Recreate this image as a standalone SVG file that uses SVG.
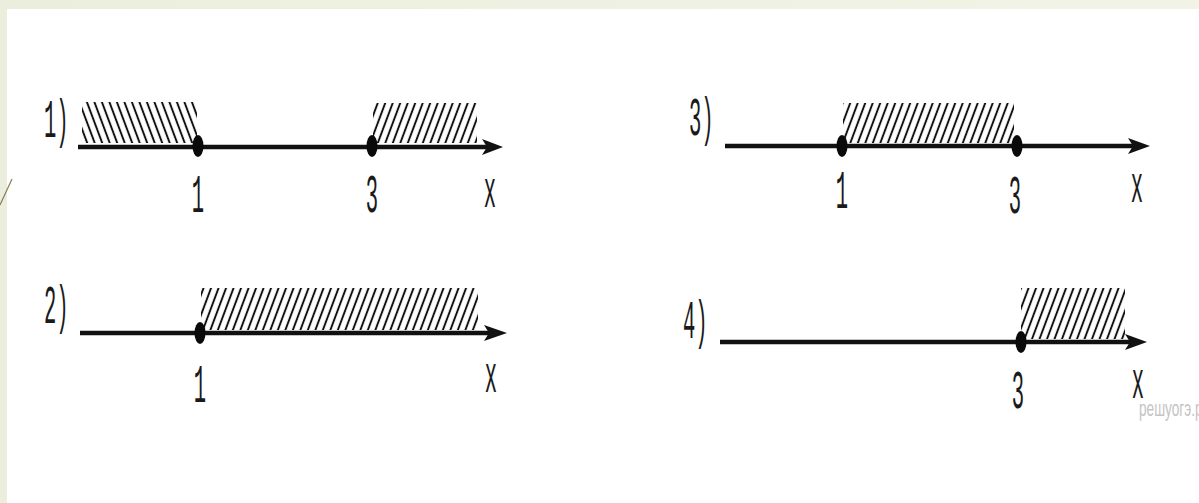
<svg xmlns="http://www.w3.org/2000/svg" width="1199" height="503" viewBox="0 0 1199 503">
<defs>
<linearGradient id="band" x1="0" y1="0" x2="1" y2="0">
<stop offset="0" stop-color="#eceedd"/>
<stop offset="1" stop-color="#f1f3e6"/>
</linearGradient>
<pattern id="fwd" patternUnits="userSpaceOnUse" width="7.5" height="10" patternTransform="skewX(-20.5)">
<line x1="3.75" y1="-1" x2="3.75" y2="11" stroke="#111" stroke-width="2.1"/>
</pattern>
<pattern id="back" patternUnits="userSpaceOnUse" width="7.5" height="10" patternTransform="skewX(20.5)">
<line x1="3.75" y1="-1" x2="3.75" y2="11" stroke="#111" stroke-width="2.1"/>
</pattern>
</defs>
<style>
.axis{stroke:#111;stroke-width:4.5;fill:none}
.dot{fill:#0a0a0a}
.head{fill:#111}
.lbl{font-family:"Liberation Mono",monospace;font-size:54px;fill:#1a1a1a;text-anchor:middle}
.num{font-family:"Liberation Mono",monospace;font-size:54px;fill:#1a1a1a}
.wm{font-family:"Liberation Sans",sans-serif;font-size:22px;fill:#c4c4c4}
</style>
<rect x="0" y="0" width="1199" height="503" fill="#ffffff"/>
<rect x="0" y="0" width="1199" height="9" fill="url(#band)"/>
<rect x="0" y="0" width="7" height="503" fill="#eceedd"/>
<line x1="0" y1="205" x2="12" y2="179" stroke="#8a7d4e" stroke-width="1.2"/>

<g id="connectors">
<line class="axis" x1="78" y1="147" x2="488" y2="147"/>
<path class="head" d="M503,147 L482,139 L487,147 L482,155 Z"/>
<line class="axis" x1="725" y1="146" x2="1134" y2="146"/>
<path class="head" d="M1150,146 L1128,138 L1133,146 L1128,154 Z"/>
<line class="axis" x1="80" y1="333" x2="490" y2="333"/>
<path class="head" d="M507,333 L484,325 L489,333 L484,341 Z"/>
<line class="axis" x1="720" y1="342" x2="1130" y2="342"/>
<path class="head" d="M1147,342 L1125,334 L1130,342 L1125,350 Z"/>
</g>

<g id="panel1">
<rect x="82" y="102" width="115" height="41" fill="url(#back)"/>
<rect x="373" y="103" width="104" height="40" fill="url(#fwd)"/>
<ellipse class="dot" cx="198" cy="146" rx="5.5" ry="11"/>
<ellipse class="dot" cx="372" cy="146" rx="5.5" ry="11"/>
<text class="num" transform="translate(44,137) scale(0.38,1)">1)</text>
<text class="lbl" transform="translate(198,212) scale(0.38,1)">1</text>
<text class="lbl" transform="translate(372,212) scale(0.38,1)">3</text>
<text class="lbl" transform="translate(490,207) scale(0.38,1)">x</text>
</g>

<g id="panel3">
<rect x="843" y="103" width="171" height="40" fill="url(#fwd)"/>
<ellipse class="dot" cx="842" cy="146" rx="5.5" ry="11"/>
<ellipse class="dot" cx="1017" cy="146" rx="5.5" ry="11"/>
<text class="num" transform="translate(689,135) scale(0.38,1)">3)</text>
<text class="lbl" transform="translate(842,208) scale(0.38,1)">1</text>
<text class="lbl" transform="translate(1015,213) scale(0.38,1)">3</text>
<text class="lbl" transform="translate(1137,202) scale(0.38,1)">x</text>
</g>

<g id="panel2">
<rect x="201" y="288" width="277" height="42" fill="url(#fwd)"/>
<ellipse class="dot" cx="200" cy="333" rx="5.5" ry="11"/>
<text class="num" transform="translate(44,323) scale(0.38,1)">2)</text>
<text class="lbl" transform="translate(200,402) scale(0.38,1)">1</text>
<text class="lbl" transform="translate(491,392) scale(0.38,1)">x</text>
</g>

<g id="panel4">
<rect x="1021" y="288" width="104" height="51" fill="url(#fwd)"/>
<ellipse class="dot" cx="1021" cy="342" rx="5.5" ry="11"/>
<text class="num" transform="translate(683,338) scale(0.38,1)">4)</text>
<text class="lbl" transform="translate(1018,408) scale(0.38,1)">3</text>
<text class="lbl" transform="translate(1138,398) scale(0.38,1)">x</text>
<text class="wm" transform="translate(1139,416) scale(0.62,1)">решуогэ.рф</text>
</g>
</svg>
